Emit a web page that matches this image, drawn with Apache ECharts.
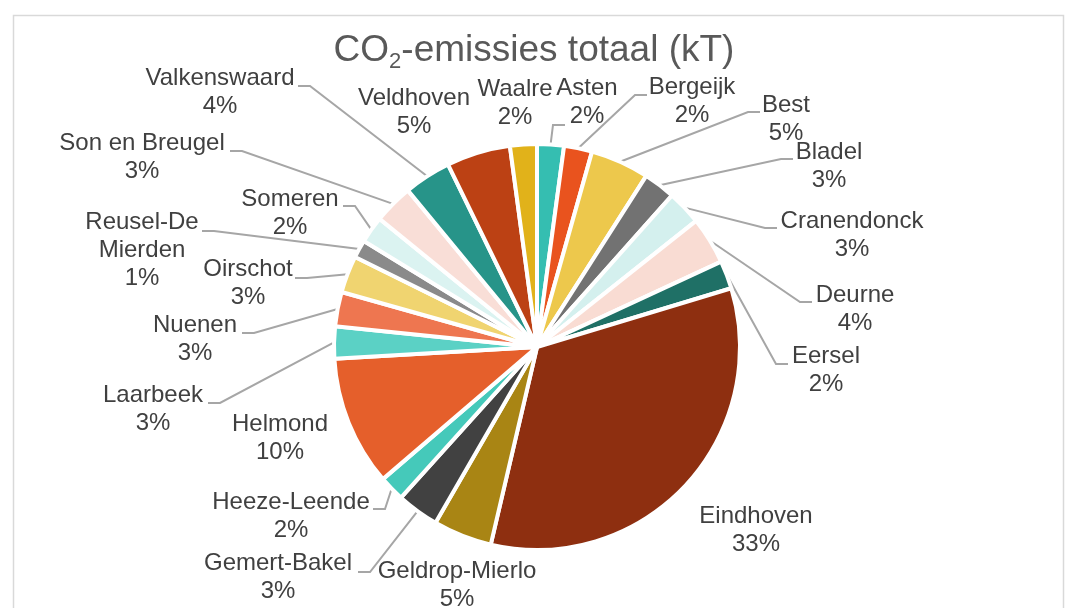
<!DOCTYPE html>
<html><head><meta charset="utf-8">
<script src="https://cdn.jsdelivr.net/npm/echarts@6/dist/echarts.min.js"></script>
<style>html,body{margin:0;padding:0;background:#fff}#c{width:1068px;height:608px}</style>
</head><body><div id="c"></div>
<script>
const categories = ['Asten','Bergeijk','Best','Bladel','Cranendonck','Deurne','Eersel','Eindhoven','Geldrop-Mierlo','Gemert-Bakel','Heeze-Leende','Helmond','Laarbeek','Nuenen','Oirschot','Reusel-De Mierden','Someren','Son en Breugel','Valkenswaard','Veldhoven','Waalre'];
const values = [2.1, 2.2, 4.6, 2.5, 2.7, 3.7, 2.2, 32.8, 4.6, 3.3, 2.0, 10.2, 2.5, 2.7, 2.9, 1.4, 2.1, 3.1, 3.7, 5.0, 2.1];
const colors = ['#35BEB1','#E9531E','#EDC84C','#727272','#D4F0EE','#F9DCD3','#1F7066','#8E2F10','#A98514','#414141','#45C9BA','#E55F2B','#5BD1C5','#EE7650','#F0D470','#8A8A8A','#DBF3F1','#F9DED7','#279489','#BC4114','#E1B21A'];
// label placement (layout only): centre x, centre y, leader attach offset x, y (null = no leader)
const labelPos = [
  [587,102,-22,23],[692,101,-45,-6],[786,119,-26,-7],[829,166,-36,-7],[852,235,-75,-7],
  [855,309,-43,-7],[826,370,-38,-6],[756,530,null,null],[457,585,null,null],[278,577,80,-5],
  [291,516,82,-7],[280,438,null,null],[153,409,55,-6],[195,339,47,-6],[248,283,47,-5],
  [142,250,60,-19],[290,213,53,-7],[142,157,88,-6],[220,92,78,-6],[414,112,null,null],[515,103,null,null]
];

const chart = echarts.init(document.getElementById('c'), null, {renderer: 'canvas'});
const data = categories.map((n, i) => ({
  name: n, value: values[i],
  itemStyle: {color: colors[i]},
  labelLine: {show: labelPos[i][2] !== null}
}));

chart.setOption({
  animation: false,
  backgroundColor: '#ffffff',
  graphic: [{
    type: 'rect', left: 11, top: 13, silent: true,
    shape: {width: 1050, height: 640},
    style: {fill: 'none', stroke: '#D9D9D9', lineWidth: 1.5}
  }],
  title: {
    text: '{a|CO}{s|2}{a|-emissies totaal (kT)}',
    left: 'center', top: 29, padding: 0,
    textStyle: {
      fontWeight: 'normal',
      rich: {
        a: {fontFamily: 'Liberation Sans, Arial, sans-serif', fontSize: 37, fontWeight: 'normal', color: '#595959', lineHeight: 44},
        s: {fontFamily: 'Liberation Sans, Arial, sans-serif', fontSize: 22, fontWeight: 'normal', color: '#595959', lineHeight: 22, verticalAlign: 'bottom'}
      }
    }
  },
  series: [{
    type: 'pie',
    center: [537, 347],
    radius: 203,
    startAngle: 90,
    clockwise: true,
    avoidLabelOverlap: false,
    data: data,
    itemStyle: {borderColor: '#ffffff', borderWidth: 4},
    label: {
      show: true, position: 'outside',
      fontFamily: 'Liberation Sans, Arial, sans-serif', fontSize: 24, lineHeight: 28,
      color: '#404040', align: 'center',
      formatter: p => (p.name === 'Reusel-De Mierden' ? 'Reusel-De\nMierden' : p.name) + '\n' + Math.round(p.percent) + '%'
    },
    labelLine: {show: true, length: 10, length2: 10, smooth: false, lineStyle: {color: '#A6A6A6', width: 2}},
    labelLayout: function (params) {
      const lp = labelPos[params.dataIndex];
      const out = {x: lp[0], y: lp[1], align: 'center', verticalAlign: 'middle'};
      if (lp[2] !== null && params.labelLinePoints && params.labelLinePoints.length) {
        const p0 = params.labelLinePoints[0];
        const ax = lp[0] + lp[2], ay = lp[1] + lp[3];
        const bx = ax + (lp[2] > 0 ? 12 : -12);
        out.labelLinePoints = [[p0[0], p0[1]], [bx, ay], [ax, ay]];
      }
      return out;
    }
  }]
});
</script></body></html>
